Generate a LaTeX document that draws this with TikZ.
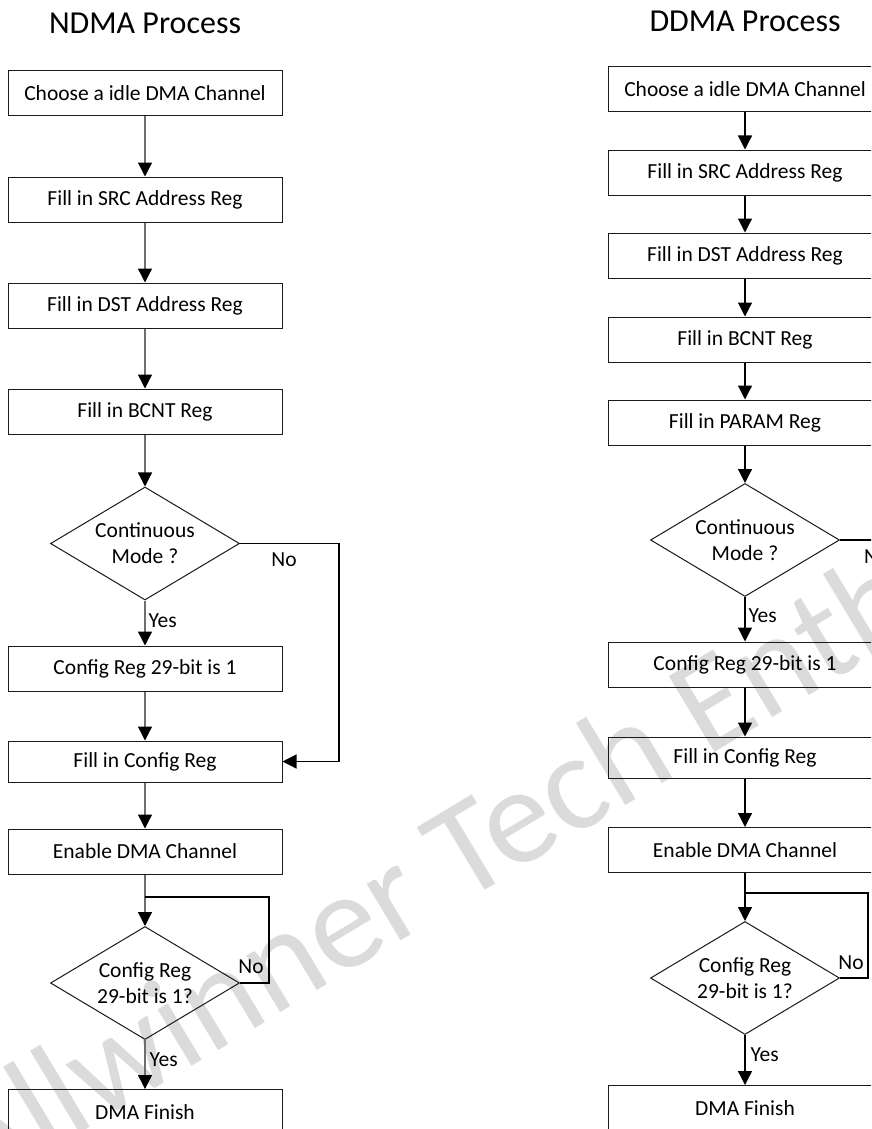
\documentclass[tikz,border=0pt]{standalone}
\usepackage{fontspec}
\setmainfont{Carlito}
\usetikzlibrary{arrows.meta,shapes.geometric}
\definecolor{lg}{HTML}{6E6E6E}
\definecolor{bd}{HTML}{1A1A1A}
\definecolor{wm}{HTML}{DBDBDB}
\begin{document}
\begin{tikzpicture}[x=1pt,y=-1pt,
 box/.style={draw=bd, line width=1pt, rectangle, minimum width=274pt, minimum height=45pt, inner sep=0pt, font=\fontsize{21.5}{25}\selectfont},
 dia/.style={draw=bd, line width=1pt, diamond, aspect=1.66, minimum width=189pt, minimum height=113pt, inner sep=0pt, align=center, font=\fontsize{21.5}{26}\selectfont},
 lab/.style={font=\fontsize{21.5}{25}\selectfont, inner sep=0pt},
 ttl/.style={font=\fontsize{32}{38}\selectfont, inner sep=0pt},
 tip/.style={-{Triangle[width=14pt,length=14pt,color=black]}},
 conng/.style={draw=lg, line width=1.3pt, tip},
 connk/.style={draw=black, line width=1.2pt, tip},
 lineg/.style={draw=lg, line width=1.3pt},
 linek/.style={draw=black, line width=1.2pt}]
\useasboundingbox (0,0) rectangle (871,1129);
\clip (0,0) rectangle (871,1129);
\fill[white] (0,0) rectangle (871,1129);

% watermark
\node[text=wm, rotate=31, anchor=base west, inner sep=0pt, font=\fontsize{138}{138}\selectfont] (wmk) at (-24,1196) {Allwinner Tech Enth};

% ---------------- NDMA ----------------
\node[ttl] (tl) at (145,23) {NDMA Process};
\node[box] (L1) at (145,93.5) {Choose a idle DMA Channel};
\node[box] (L2) at (145,199.5) {Fill in SRC Address Reg};
\node[box] (L3) at (145,305.5) {Fill in DST Address Reg};
\node[box] (L4) at (145,411.5) {Fill in BCNT Reg};
\node[dia] (LD1) at (145,543.5) {Continuous\\Mode ?};
\node[box] (L5) at (145,668.5) {Config Reg 29-bit is 1};
\node[box, minimum height=41pt] (L6) at (145,761.5) {Fill in Config Reg};
\node[box] (L7) at (145,851.5) {Enable DMA Channel};
\node[dia] (LD2) at (145,983) {Config Reg\\29-bit is 1?};
\node[box] (L8) at (145,1112) {DMA Finish};
\coordinate (LJ) at (145,897);

\draw[conng] (L1) -- (L2);
\draw[conng] (L2) -- (L3);
\draw[conng] (L3) -- (L4);
\draw[conng] (L4) -- (LD1);
\draw[conng] (LD1) -- node[lab, anchor=west, pos=0.45, xshift=3pt] (ly1) {Yes} (L5);
\draw[conng] (L5) -- (L6);
\draw[connk] (LD1.east) -- ++(99,0) |- (L6.east);
\node[lab] (ln1) at (284,560) {No};
\draw[conng] (L6) -- (L7);
\draw[conng] (L7) -- (LD2);
\draw[linek] (LD2.east) -- ++(29,0) |- (LJ);
\node[lab] (ln2) at (251,967) {No};
\draw[conng] (LD2) -- node[lab, anchor=west, pos=0.4, xshift=4pt] (ly2) {Yes} (L8);

% ---------------- DDMA ----------------
\node[ttl] (tr) at (745,21) {DDMA Process};
\node[box] (R1) at (745,89.5) {Choose a idle DMA Channel};
\node[box] (R2) at (745,172.5) {Fill in SRC Address Reg};
\node[box] (R3) at (745,255.5) {Fill in DST Address Reg};
\node[box] (R4) at (745,339.5) {Fill in BCNT Reg};
\node[box] (R5) at (745,422.5) {Fill in PARAM Reg};
\node[dia] (RD1) at (745,540) {Continuous\\Mode ?};
\node[box] (R6) at (745,664.5) {Config Reg 29-bit is 1};
\node[box, minimum height=41pt] (R7) at (745,757.5) {Fill in Config Reg};
\node[box] (R8) at (745,850) {Enable DMA Channel};
\node[dia] (RD2) at (745,978) {Config Reg\\29-bit is 1?};
\node[box] (R9) at (745,1108) {DMA Finish};
\coordinate (RJ) at (745,893);

\draw[connk] (R1) -- (R2);
\draw[connk] (R2) -- (R3);
\draw[connk] (R3) -- (R4);
\draw[connk] (R4) -- (R5);
\draw[connk] (R5) -- (RD1);
\draw[connk] (RD1) -- node[lab, anchor=west, pos=0.42, xshift=3pt] (ry1) {Yes} (R6);
\draw[linek] (RD1.east) -- ++(60,0);
\node[lab, anchor=west] (rn1) at (864,557) {No};
\draw[connk] (R6) -- (R7);
\draw[connk] (R7) -- (R8);
\draw[connk] (R8) -- (RD2);
\draw[linek] (RD2.east) -- ++(28,0) |- (RJ);
\node[lab] (rn2) at (851,963) {No};
\draw[connk] (RD2) -- node[lab, anchor=west, pos=0.4, xshift=5pt] (ry2) {Yes} (R9);
\end{tikzpicture}
\end{document}
